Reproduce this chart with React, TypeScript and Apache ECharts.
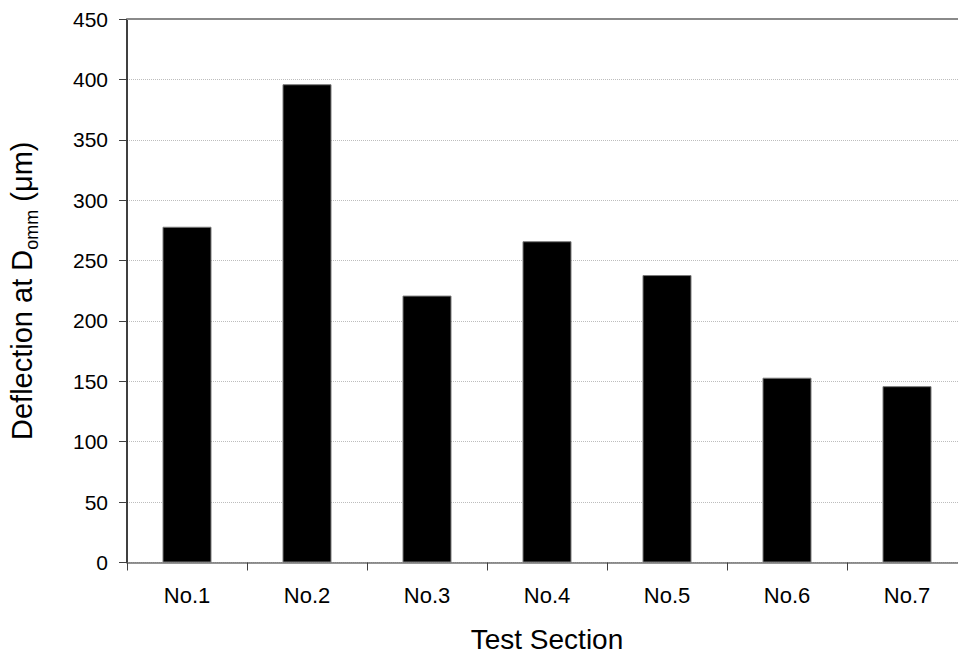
import React, { useEffect, useRef } from "react";
import * as echarts from "echarts";

const categories = ["No.1", "No.2", "No.3", "No.4", "No.5", "No.6", "No.7"];
const deflection = [278, 396, 221, 266, 238, 153, 146];
const yMin = 0;
const yMax = 450;
const yInterval = 50;

const FONT = "'Liberation Sans', Arial, sans-serif";

export default function App() {
  const ref = useRef<HTMLDivElement>(null);
  useEffect(() => {
    if (!ref.current) return;
    const chart = echarts.init(ref.current, undefined, { renderer: "svg" });
    chart.setOption({
      animation: false,
      backgroundColor: "#ffffff",
      grid: {
        left: 127,
        right: -9,
        top: 19,
        bottom: 94.5,
        containLabel: false,
        outerBoundsMode: "none",
      },
      xAxis: {
        type: "category",
        data: categories,
        boundaryGap: true,
        name: "Test Section",
        nameLocation: "middle",
        nameGap: 62,
        nameTextStyle: { fontSize: 28, color: "#000", fontFamily: FONT, lineHeight: 30 },
        axisLine: { lineStyle: { color: "#707070", width: 1.5 } },
        axisTick: { show: true, inside: false, length: 8, alignWithLabel: false, lineStyle: { color: "#404040" } },
        axisLabel: { fontSize: 22, color: "#000", fontFamily: FONT, margin: 22 },
        splitLine: { show: false },
      },
      yAxis: {
        type: "value",
        min: yMin,
        max: yMax,
        interval: yInterval,
        name: "{a|Deflection at D}{s|omm}{a| (μm)}",
        nameLocation: "middle",
        nameGap: 86,
        nameRotate: 90,
        nameTextStyle: {
          color: "#000",
          fontFamily: FONT,
          fontSize: 29,
          rich: {
            a: { fontSize: 29, fontFamily: FONT, color: "#000", lineHeight: 38, verticalAlign: "middle" },
            s: { fontSize: 18, fontFamily: FONT, color: "#000", lineHeight: 38, verticalAlign: "bottom" },
          },
        },
        axisLine: { show: true, lineStyle: { color: "#000", width: 1.5 } },
        axisTick: { show: true, inside: false, length: 8, lineStyle: { color: "#404040" } },
        axisLabel: { fontSize: 21, color: "#000", fontFamily: FONT, margin: 19 },
        splitLine: { show: true, lineStyle: { color: "#bdbdbd", type: "dotted", width: 1 } },
      },
      series: [
        {
          type: "bar",
          data: deflection,
          barWidth: 49,
          itemStyle: { color: "#000", borderColor: "#7a7a7a", borderWidth: 1 },
          markLine: {
            silent: true,
            symbol: "none",
            label: { show: false },
            lineStyle: { color: "#8a8a8a", type: "solid", width: 2 },
            data: [{ yAxis: yMax }],
          },
        },
      ],
    });
    return () => chart.dispose();
  }, []);
  return <div ref={ref} style={{ width: 958, height: 657, position: "absolute", left: 0, top: 0 }} />;
}
